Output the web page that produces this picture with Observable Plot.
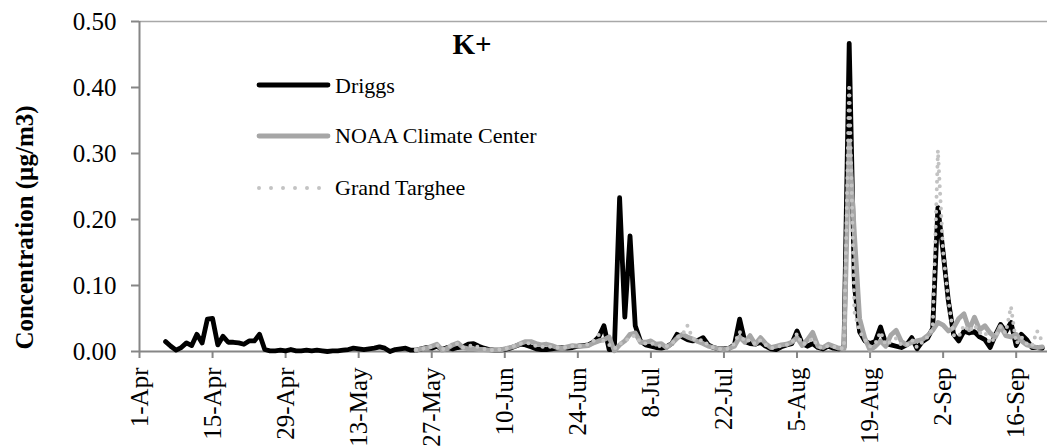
<!DOCTYPE html>
<html><head><meta charset="utf-8">
<script src="https://cdn.jsdelivr.net/npm/d3@7"></script>
<script src="https://cdn.jsdelivr.net/npm/@observablehq/plot@0.6"></script>
</head><body style="margin:0;background:#fff"><div id="wrap" style="position:relative;width:1050px;height:448px"></div>
<script>
const chartTitle = "K+";
const yLabel = "Concentration (µg/m3)";
const seriesNames = ["Driggs", "NOAA Climate Center", "Grand Targhee"];
const axisStart = "2013-04-01";
const axisEnd = "2013-09-22";
const xTickLabels = ["1-Apr","15-Apr","29-Apr","13-May","27-May","10-Jun","24-Jun","8-Jul","22-Jul","5-Aug","19-Aug","2-Sep","16-Sep"];
const yTicks = [0, 0.1, 0.2, 0.3, 0.4, 0.5];

// daily values, first value on the start date
const driggsStart = "2013-04-06";
const driggs = [
  0.015,0.008,0.002,0.006,0.013,0.009,0.026,0.013,0.049,0.050,
  0.010,0.023,0.014,0.014,0.013,0.011,0.016,0.016,0.026,0.003,
  0.001,0.001,0.002,0.001,0.003,0.001,0.001,0.002,0.001,0.002,
  0.001,0.000,0.001,0.001,0.002,0.003,0.005,0.004,0.003,0.004,
  0.005,0.007,0.005,0.000,0.003,0.004,0.005,0.002,0.002,0.004,
  0.006,0.005,0.008,0.003,0.006,0.004,0.006,0.007,0.011,0.012,
  0.008,0.005,0.003,0.002,0.002,0.003,0.005,0.008,0.011,0.010,
  0.007,0.004,0.003,0.003,0.004,0.005,0.006,0.005,0.006,0.008,
  0.009,0.010,0.014,0.022,0.039,0.003,0.004,0.233,0.052,0.175,
  0.039,0.016,0.010,0.008,0.006,0.005,0.007,0.012,0.026,0.022,
  0.018,0.016,0.017,0.021,0.010,0.006,0.004,0.004,0.005,0.010,
  0.049,0.015,0.012,0.011,0.014,0.008,0.004,0.003,0.007,0.010,
  0.012,0.031,0.012,0.008,0.012,0.006,0.004,0.008,0.005,0.004,
  0.006,0.467,0.100,0.030,0.016,0.012,0.015,0.037,0.012,0.010,
  0.008,0.006,0.010,0.021,0.004,0.015,0.020,0.035,0.218,0.150,
  0.077,0.026,0.016,0.031,0.028,0.030,0.022,0.018,0.006,0.025,
  0.041,0.030,0.044,0.009,0.026,0.018,0.006,0.006,0.005
];
const noaaStart = "2013-05-24";
const noaa = [
  0.002,0.004,0.005,0.008,0.011,0.002,0.005,0.010,0.013,0.006,
  0.004,0.004,0.003,0.003,0.002,0.002,0.002,0.004,0.006,0.008,
  0.012,0.015,0.015,0.012,0.010,0.011,0.009,0.006,0.005,0.007,
  0.009,0.008,0.008,0.009,0.013,0.016,0.018,0.022,0.001,0.010,
  0.016,0.026,0.028,0.014,0.014,0.016,0.011,0.012,0.006,0.012,
  0.020,0.026,0.022,0.019,0.015,0.012,0.008,0.006,0.004,0.003,
  0.005,0.008,0.022,0.014,0.024,0.011,0.021,0.012,0.006,0.008,
  0.010,0.011,0.014,0.021,0.009,0.018,0.029,0.008,0.006,0.011,
  0.008,0.005,0.004,0.317,0.178,0.050,0.020,0.002,0.008,0.016,
  0.008,0.025,0.032,0.015,0.010,0.014,0.016,0.018,0.024,0.032,
  0.044,0.040,0.031,0.036,0.050,0.057,0.033,0.052,0.033,0.039,
  0.028,0.022,0.038,0.024,0.022,0.026,0.016,0.010,0.008,0.006,
  0.007
];
const targheeStart = "2013-05-24";
const targhee = [
  0.003,0.005,0.004,0.008,0.010,0.003,0.006,0.011,0.012,0.006,
  0.008,0.010,0.006,0.004,0.003,0.002,0.003,0.004,0.006,0.009,
  0.012,0.013,0.012,0.008,0.007,0.008,0.007,0.006,0.006,0.006,
  0.008,0.008,0.009,0.011,0.016,0.025,0.015,0.010,0.004,0.012,
  0.015,0.022,0.024,0.014,0.012,0.013,0.009,0.008,0.008,0.012,
  0.022,0.025,0.039,0.020,0.016,0.018,0.009,0.006,0.004,0.003,
  0.005,0.012,0.030,0.014,0.018,0.011,0.017,0.010,0.005,0.006,
  0.009,0.010,0.013,0.027,0.011,0.013,0.020,0.007,0.005,0.009,
  0.007,0.005,0.005,0.405,0.060,0.030,0.018,0.008,0.012,0.030,
  0.010,0.015,0.020,0.010,0.010,0.018,0.006,0.014,0.022,0.035,
  0.305,0.150,0.078,0.025,0.022,0.040,0.030,0.040,0.028,0.030,
  0.012,0.022,0.038,0.028,0.068,0.012,0.022,0.012,0.008,0.031,
  0.015
];

const colors = ["#000000", "#a6a6a6", "#c3c3c3"];
const FONT = "Liberation Serif";

const parseISO = d3.utcParse("%Y-%m-%d");
function rows(start, values, name) {
  const s = parseISO(start);
  return values.map((v, i) => ({date: d3.utcDay.offset(s, i), value: v, series: name}));
}
const driggsRows = rows(driggsStart, driggs, seriesNames[0]);
const noaaRows = rows(noaaStart, noaa, seriesNames[1]);
const targheeRows = rows(targheeStart, targhee, seriesNames[2]);

const parseTick = d3.utcParse("%d-%b-%Y");
const tickDates = xTickLabels.map(l => parseTick(l + "-2013"));
const x0 = parseISO(axisStart), x1 = parseISO(axisEnd);
const axisColor = "#868686";

const chart = Plot.plot({
  width: 1050, height: 448,
  marginLeft: 139, marginRight: 3, marginTop: 21, marginBottom: 97,
  x: {type: "utc", domain: [x0, x1]},
  y: {domain: [0, 0.5]},
  marks: [
    Plot.ruleY([0.5], {stroke: "#a8a8a8", strokeWidth: 1.3}),
    Plot.axisY({ticks: yTicks, tickFormat: d => d.toFixed(2), tickSize: 8, tickPadding: 15,
      stroke: axisColor, strokeWidth: 2, fill: "#000", fontSize: 25, fontFamily: FONT, label: null}),
    Plot.axisX({ticks: tickDates, tickFormat: (d, i) => xTickLabels[i], tickSize: 7, tickPadding: 9,
      tickRotate: -90, stroke: axisColor, strokeWidth: 2, fill: "#000", fontSize: 25, fontFamily: FONT, label: null}),
    Plot.ruleX([x0], {stroke: axisColor, strokeWidth: 2}),
    Plot.ruleY([0], {stroke: axisColor, strokeWidth: 2}),
    Plot.line(driggsRows, {x: "date", y: "value", stroke: colors[0], strokeWidth: 4.8, strokeLinejoin: "round", strokeLinecap: "round"}),
    Plot.line(noaaRows, {x: "date", y: "value", stroke: colors[1], strokeWidth: 4.8, strokeLinejoin: "round", strokeLinecap: "round"}),
    Plot.line(targheeRows, {x: "date", y: "value", stroke: colors[2], strokeWidth: 4, strokeDasharray: "0 7.5", strokeLinejoin: "round", strokeLinecap: "round"})
  ]
});
d3.select(chart).attr("font-family", FONT);
document.getElementById("wrap").appendChild(chart);

// overlay: chart title, legend and y-axis title
const ov = d3.select("#wrap").append("svg")
  .attr("width", 1050).attr("height", 448).attr("font-family", FONT)
  .style("position", "absolute").style("left", "0px").style("top", "0px");

ov.append("text").attr("x", 452.5).attr("y", 54.3).attr("font-size", 29).attr("font-weight", "bold")
  .attr("font-family", FONT).attr("fill", "#000").text(chartTitle);

const legendY = [85, 136, 188];
const legendBase = [92.7, 143.3, 195];
seriesNames.forEach((name, i) => {
  if (i < 2) {
    ov.append("line").attr("x1", 259).attr("x2", 328).attr("y1", legendY[i]).attr("y2", legendY[i])
      .attr("stroke", colors[i]).attr("stroke-width", 4.8).attr("stroke-linecap", "round");
  } else {
    ov.append("line").attr("x1", 259).attr("x2", 320).attr("y1", legendY[i]).attr("y2", legendY[i])
      .attr("stroke", colors[i]).attr("stroke-width", 4).attr("stroke-linecap", "round").attr("stroke-dasharray", "0 12");
  }
  ov.append("text").attr("x", 335).attr("y", legendBase[i]).attr("font-size", 22)
    .attr("font-family", FONT).attr("fill", "#000").text(name);
});

ov.append("text").attr("transform", "translate(33,227.5) rotate(-90)").attr("text-anchor", "middle")
  .attr("font-size", 25).attr("font-weight", "bold").attr("font-family", FONT)
  .attr("fill", "#000").text(yLabel);
</script>
</body></html>
